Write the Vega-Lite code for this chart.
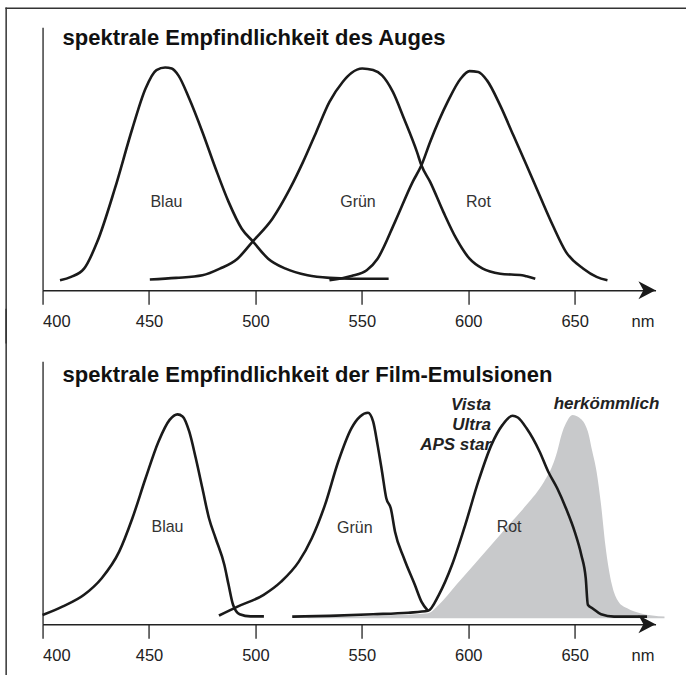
{
  "$schema": "https://vega.github.io/schema/vega-lite/v6.json",
  "autosize": {"type": "pad"},
  "padding": {"left": 4.55, "top": 6.25, "right": 0, "bottom": 0},
  "background": "white",
  "bounds": "flush",
  "spacing": 71,
  "config": {
    "view": {"stroke": null},
    "font": "Liberation Sans",
    "axis": {"domainColor": "#222", "domainWidth": 1.3, "tickColor": "#222", "tickWidth": 1.3, "grid": false},
    "text": {"font": "Liberation Sans"}
  },
  "datasets": {
    "eye": [
      {"series": "Blau", "nm": 408.2, "v": 0.038}, {"series": "Blau", "nm": 413.4, "v": 0.051}, {"series": "Blau", "nm": 419.5, "v": 0.082}, {"series": "Blau", "nm": 425.7, "v": 0.184}, {"series": "Blau", "nm": 434.0, "v": 0.387}, {"series": "Blau", "nm": 442.2, "v": 0.615}, {"series": "Blau", "nm": 448.4, "v": 0.767}, {"series": "Blau", "nm": 453.5, "v": 0.837}, {"series": "Blau", "nm": 457.6, "v": 0.847}, {"series": "Blau", "nm": 460.7, "v": 0.843}, {"series": "Blau", "nm": 463.8, "v": 0.817}, {"series": "Blau", "nm": 468.9, "v": 0.729}, {"series": "Blau", "nm": 475.1, "v": 0.602}, {"series": "Blau", "nm": 481.3, "v": 0.463}, {"series": "Blau", "nm": 487.4, "v": 0.336}, {"series": "Blau", "nm": 493.6, "v": 0.234}, {"series": "Blau", "nm": 498.8, "v": 0.186}, {"series": "Blau", "nm": 506.0, "v": 0.120}, {"series": "Blau", "nm": 514.2, "v": 0.082}, {"series": "Blau", "nm": 524.5, "v": 0.057}, {"series": "Blau", "nm": 534.8, "v": 0.047}, {"series": "Blau", "nm": 545.1, "v": 0.044}, {"series": "Blau", "nm": 562.6, "v": 0.044},
      {"series": "Grün", "nm": 450.4, "v": 0.041}, {"series": "Grün", "nm": 462.8, "v": 0.047}, {"series": "Grün", "nm": 475.1, "v": 0.057}, {"series": "Grün", "nm": 483.3, "v": 0.082}, {"series": "Grün", "nm": 491.6, "v": 0.120}, {"series": "Grün", "nm": 498.8, "v": 0.186}, {"series": "Grün", "nm": 508.0, "v": 0.272}, {"series": "Grün", "nm": 516.3, "v": 0.387}, {"series": "Grün", "nm": 522.4, "v": 0.488}, {"series": "Grün", "nm": 528.6, "v": 0.602}, {"series": "Grün", "nm": 534.8, "v": 0.716}, {"series": "Grün", "nm": 541.0, "v": 0.792}, {"series": "Grün", "nm": 545.1, "v": 0.826}, {"series": "Grün", "nm": 550.2, "v": 0.843}, {"series": "Grün", "nm": 555.3, "v": 0.837}, {"series": "Grün", "nm": 559.5, "v": 0.817}, {"series": "Grün", "nm": 564.6, "v": 0.754}, {"series": "Grün", "nm": 569.8, "v": 0.653}, {"series": "Grün", "nm": 575.9, "v": 0.526}, {"series": "Grün", "nm": 578.0, "v": 0.475}, {"series": "Grün", "nm": 582.1, "v": 0.412}, {"series": "Grün", "nm": 588.3, "v": 0.298}, {"series": "Grün", "nm": 594.4, "v": 0.196}, {"series": "Grün", "nm": 600.6, "v": 0.120}, {"series": "Grün", "nm": 606.8, "v": 0.082}, {"series": "Grün", "nm": 615.0, "v": 0.063}, {"series": "Grün", "nm": 625.3, "v": 0.057}, {"series": "Grün", "nm": 627.4, "v": 0.053}, {"series": "Grün", "nm": 631.5, "v": 0.044},
      {"series": "Rot", "nm": 534.8, "v": 0.038}, {"series": "Rot", "nm": 545.1, "v": 0.054}, {"series": "Rot", "nm": 552.3, "v": 0.076}, {"series": "Rot", "nm": 557.4, "v": 0.120}, {"series": "Rot", "nm": 565.6, "v": 0.260}, {"series": "Rot", "nm": 573.9, "v": 0.412}, {"series": "Rot", "nm": 578.0, "v": 0.475}, {"series": "Rot", "nm": 582.1, "v": 0.564}, {"series": "Rot", "nm": 590.3, "v": 0.716}, {"series": "Rot", "nm": 596.5, "v": 0.805}, {"series": "Rot", "nm": 600.6, "v": 0.833}, {"series": "Rot", "nm": 604.7, "v": 0.830}, {"series": "Rot", "nm": 608.8, "v": 0.798}, {"series": "Rot", "nm": 615.0, "v": 0.703}, {"series": "Rot", "nm": 621.2, "v": 0.589}, {"series": "Rot", "nm": 627.4, "v": 0.475}, {"series": "Rot", "nm": 633.5, "v": 0.361}, {"series": "Rot", "nm": 639.7, "v": 0.247}, {"series": "Rot", "nm": 645.9, "v": 0.146}, {"series": "Rot", "nm": 654.1, "v": 0.082}, {"series": "Rot", "nm": 660.3, "v": 0.051}, {"series": "Rot", "nm": 665.4, "v": 0.038}
    ],
    "film": [
      {"series": "Blau", "nm": 400.0, "v": 0.035}, {"series": "Blau", "nm": 409.3, "v": 0.067}, {"series": "Blau", "nm": 419.5, "v": 0.112}, {"series": "Blau", "nm": 427.8, "v": 0.175}, {"series": "Blau", "nm": 436.0, "v": 0.276}, {"series": "Blau", "nm": 442.2, "v": 0.403}, {"series": "Blau", "nm": 448.4, "v": 0.555}, {"series": "Blau", "nm": 454.5, "v": 0.695}, {"series": "Blau", "nm": 459.7, "v": 0.777}, {"series": "Blau", "nm": 463.4, "v": 0.798}, {"series": "Blau", "nm": 465.8, "v": 0.790}, {"series": "Blau", "nm": 468.9, "v": 0.733}, {"series": "Blau", "nm": 472.0, "v": 0.631}, {"series": "Blau", "nm": 475.1, "v": 0.517}, {"series": "Blau", "nm": 478.2, "v": 0.403}, {"series": "Blau", "nm": 481.3, "v": 0.327}, {"series": "Blau", "nm": 485.4, "v": 0.226}, {"series": "Blau", "nm": 487.4, "v": 0.150}, {"series": "Blau", "nm": 489.5, "v": 0.074}, {"series": "Blau", "nm": 492.6, "v": 0.038}, {"series": "Blau", "nm": 497.7, "v": 0.030}, {"series": "Blau", "nm": 504.0, "v": 0.030},
      {"series": "Grün", "nm": 482.9, "v": 0.033}, {"series": "Grün", "nm": 491.6, "v": 0.067}, {"series": "Grün", "nm": 503.9, "v": 0.112}, {"series": "Grün", "nm": 512.1, "v": 0.162}, {"series": "Grün", "nm": 520.4, "v": 0.238}, {"series": "Grün", "nm": 526.5, "v": 0.327}, {"series": "Grün", "nm": 532.7, "v": 0.454}, {"series": "Grün", "nm": 538.9, "v": 0.618}, {"series": "Grün", "nm": 545.1, "v": 0.745}, {"series": "Grün", "nm": 549.2, "v": 0.790}, {"series": "Grün", "nm": 552.9, "v": 0.804}, {"series": "Grün", "nm": 555.3, "v": 0.771}, {"series": "Grün", "nm": 557.4, "v": 0.682}, {"series": "Grün", "nm": 559.5, "v": 0.580}, {"series": "Grün", "nm": 561.5, "v": 0.479}, {"series": "Grün", "nm": 563.6, "v": 0.441}, {"series": "Grün", "nm": 565.6, "v": 0.352}, {"series": "Grün", "nm": 569.8, "v": 0.251}, {"series": "Grün", "nm": 574.9, "v": 0.150}, {"series": "Grün", "nm": 578.0, "v": 0.086}, {"series": "Grün", "nm": 581.1, "v": 0.051},
      {"series": "Rot", "nm": 517.3, "v": 0.029}, {"series": "Rot", "nm": 534.8, "v": 0.032}, {"series": "Rot", "nm": 555.3, "v": 0.038}, {"series": "Rot", "nm": 571.8, "v": 0.044}, {"series": "Rot", "nm": 581.1, "v": 0.051}, {"series": "Rot", "nm": 586.2, "v": 0.112}, {"series": "Rot", "nm": 592.4, "v": 0.226}, {"series": "Rot", "nm": 598.6, "v": 0.378}, {"series": "Rot", "nm": 604.7, "v": 0.542}, {"series": "Rot", "nm": 610.9, "v": 0.682}, {"series": "Rot", "nm": 616.1, "v": 0.758}, {"series": "Rot", "nm": 620.8, "v": 0.793}, {"series": "Rot", "nm": 623.3, "v": 0.786}, {"series": "Rot", "nm": 627.4, "v": 0.745}, {"series": "Rot", "nm": 633.5, "v": 0.657}, {"series": "Rot", "nm": 637.6, "v": 0.580}, {"series": "Rot", "nm": 641.8, "v": 0.517}, {"series": "Rot", "nm": 645.9, "v": 0.441}, {"series": "Rot", "nm": 650.0, "v": 0.352}, {"series": "Rot", "nm": 653.1, "v": 0.264}, {"series": "Rot", "nm": 655.2, "v": 0.175}, {"series": "Rot", "nm": 656.2, "v": 0.074}, {"series": "Rot", "nm": 658.3, "v": 0.061}, {"series": "Rot", "nm": 662.4, "v": 0.038}, {"series": "Rot", "nm": 668.5, "v": 0.029}, {"series": "Rot", "nm": 684.0, "v": 0.029}
    ],
    "conventional": [
      {"nm": 524.5, "v": 0.025}, {"nm": 565.6, "v": 0.035}, {"nm": 581.1, "v": 0.042}, {"nm": 586.2, "v": 0.074}, {"nm": 594.4, "v": 0.150}, {"nm": 602.7, "v": 0.226}, {"nm": 610.9, "v": 0.302}, {"nm": 619.1, "v": 0.378}, {"nm": 627.4, "v": 0.454}, {"nm": 635.6, "v": 0.542}, {"nm": 639.7, "v": 0.606}, {"nm": 641.8, "v": 0.657}, {"nm": 643.8, "v": 0.720}, {"nm": 645.9, "v": 0.764}, {"nm": 649.0, "v": 0.796}, {"nm": 652.1, "v": 0.786}, {"nm": 656.2, "v": 0.733}, {"nm": 658.3, "v": 0.657}, {"nm": 660.3, "v": 0.580}, {"nm": 662.4, "v": 0.454}, {"nm": 664.4, "v": 0.302}, {"nm": 667.5, "v": 0.150}, {"nm": 670.6, "v": 0.086}, {"nm": 674.7, "v": 0.061}, {"nm": 680.8, "v": 0.042}, {"nm": 692.2, "v": 0.029}
    ],
    "eyeLabels": [
      {"label": "Blau", "nm": 458.2, "v": 0.336}, {"label": "Grün", "nm": 548.2, "v": 0.336}, {"label": "Rot", "nm": 604.8, "v": 0.336}
    ],
    "filmLabels": [
      {"label": "Blau", "nm": 458.7, "v": 0.368}, {"label": "Grün", "nm": 546.7, "v": 0.365}, {"label": "Rot", "nm": 619.2, "v": 0.368}
    ],
    "filmNames": [
      {"label": "Vista", "nm": 610.7, "v": 0.834}, {"label": "Ultra", "nm": 610.7, "v": 0.758}, {"label": "APS star", "nm": 610.7, "v": 0.682}, {"label": "herkömmlich", "nm": 689.8, "v": 0.837}
    ]
  },
  "vconcat": [
    {
      "width": 613,
      "height": 263,
      "layer": [
        {
          "data": {"values": [{}]},
          "mark": {"type": "rule", "color": "#333", "strokeWidth": 1.5, "strokeCap": "square"},
          "encoding": {"x": {"datum": 382.9, "scale": {"domain": [400, 688], "nice": false, "zero": false}}, "x2": {"datum": 706}, "y": {"datum": 1.0722, "scale": {"domain": [0, 1], "nice": false, "zero": false}}}
        },
        {
          "data": {"values": [{}]},
          "mark": {"type": "rule", "color": "#333", "strokeWidth": 1.5, "strokeCap": "square"},
          "encoding": {"x": {"datum": 382.9, "scale": {"domain": [400, 688], "nice": false, "zero": false}}, "y": {"datum": 1.0722, "scale": {"domain": [0, 1], "nice": false, "zero": false}}, "y2": {"datum": -0.2}}
        },
        {
          "data": {"name": "eye"},
          "mark": {"type": "line", "color": "#1a1a1a", "strokeWidth": 2.6, "interpolate": "monotone", "strokeJoin": "round"},
          "encoding": {
            "x": {"field": "nm", "type": "quantitative", "scale": {"domain": [400, 688], "nice": false, "zero": false},
              "axis": {"values": [400, 450, 500, 550, 600, 650], "tickSize": 14, "labelPadding": 22, "labelBaseline": "alphabetic", "labelFontSize": 16.5, "labelColor": "#222", "labelFont": "Liberation Sans",
                "title": "nm", "titleX": 600, "titleY": 36, "titleAlign": "center", "titleBaseline": "alphabetic", "titleFontWeight": "normal", "titleFontSize": 16.5, "titleColor": "#222", "titleFont": "Liberation Sans"}},
            "y": {"field": "v", "type": "quantitative", "scale": {"domain": [0, 1], "nice": false, "zero": false},
              "axis": {"ticks": false, "labels": false, "title": null}},
            "detail": {"field": "series"}
          }
        },
        {
          "data": {"values": [{}]},
          "mark": {"type": "point", "shape": "M0,0 L-1.9,-1 L-1.35,0 L-1.9,1 Z", "size": 324, "filled": true, "color": "#1a1a1a", "opacity": 1, "strokeWidth": 0},
          "encoding": {"x": {"datum": 688, "scale": {"domain": [400, 688], "nice": false, "zero": false}}, "y": {"datum": 0, "scale": {"domain": [0, 1], "nice": false, "zero": false}}}
        },
        {
          "data": {"name": "eyeLabels"},
          "mark": {"type": "text", "fontSize": 16, "color": "#333", "align": "center", "baseline": "middle"},
          "encoding": {"x": {"field": "nm", "type": "quantitative", "scale": {"domain": [400, 688], "nice": false, "zero": false}}, "y": {"field": "v", "type": "quantitative", "scale": {"domain": [0, 1], "nice": false, "zero": false}}, "text": {"field": "label"}}
        },
        {
          "data": {"values": [{"t": "spektrale Empfindlichkeit des Auges"}]},
          "mark": {"type": "text", "fontSize": 22, "fontWeight": "bold", "color": "#111", "align": "left", "baseline": "alphabetic"},
          "encoding": {"x": {"datum": 409.4, "scale": {"domain": [400, 688], "nice": false, "zero": false}}, "y": {"datum": 0.9316, "scale": {"domain": [0, 1], "nice": false, "zero": false}}, "text": {"field": "t"}}
        }
      ]
    },
    {
      "width": 613,
      "height": 263,
      "layer": [
        {
          "data": {"values": [{}]},
          "mark": {"type": "rule", "color": "#333", "strokeWidth": 1.5},
          "encoding": {"x": {"datum": 382.9, "scale": {"domain": [400, 688], "nice": false, "zero": false}}, "y": {"datum": 1.2, "scale": {"domain": [0, 1], "nice": false, "zero": false}}, "y2": {"datum": -0.22}}
        },
        {
          "data": {"name": "conventional"},
          "mark": {"type": "area", "color": "#c8c9cb", "interpolate": "monotone", "opacity": 1},
          "encoding": {
            "x": {"field": "nm", "type": "quantitative", "scale": {"domain": [400, 688], "nice": false, "zero": false},
              "axis": {"values": [400, 450, 500, 550, 600, 650], "tickSize": 14, "labelPadding": 22, "labelBaseline": "alphabetic", "labelFontSize": 16.5, "labelColor": "#222", "labelFont": "Liberation Sans",
                "title": "nm", "titleX": 600, "titleY": 36, "titleAlign": "center", "titleBaseline": "alphabetic", "titleFontWeight": "normal", "titleFontSize": 16.5, "titleColor": "#222", "titleFont": "Liberation Sans"}},
            "y": {"field": "v", "type": "quantitative", "scale": {"domain": [0, 1], "nice": false, "zero": false},
              "axis": {"ticks": false, "labels": false, "title": null}},
            "y2": {"datum": 0.023}
          }
        },
        {
          "data": {"name": "film"},
          "mark": {"type": "line", "color": "#1a1a1a", "strokeWidth": 2.6, "interpolate": "monotone", "strokeJoin": "round"},
          "encoding": {
            "x": {"field": "nm", "type": "quantitative", "scale": {"domain": [400, 688], "nice": false, "zero": false}},
            "y": {"field": "v", "type": "quantitative", "scale": {"domain": [0, 1], "nice": false, "zero": false}},
            "detail": {"field": "series"}
          }
        },
        {
          "data": {"values": [{}]},
          "mark": {"type": "point", "shape": "M0,0 L-1.9,-1 L-1.35,0 L-1.9,1 Z", "size": 324, "filled": true, "color": "#1a1a1a", "opacity": 1, "strokeWidth": 0},
          "encoding": {"x": {"datum": 688, "scale": {"domain": [400, 688], "nice": false, "zero": false}}, "y": {"datum": 0, "scale": {"domain": [0, 1], "nice": false, "zero": false}}}
        },
        {
          "data": {"name": "filmLabels"},
          "mark": {"type": "text", "fontSize": 16, "color": "#333", "align": "center", "baseline": "middle"},
          "encoding": {"x": {"field": "nm", "type": "quantitative", "scale": {"domain": [400, 688], "nice": false, "zero": false}}, "y": {"field": "v", "type": "quantitative", "scale": {"domain": [0, 1], "nice": false, "zero": false}}, "text": {"field": "label"}}
        },
        {
          "data": {"name": "filmNames"},
          "mark": {"type": "text", "fontSize": 17, "fontWeight": "bold", "fontStyle": "italic", "color": "#222", "align": "right", "baseline": "middle"},
          "encoding": {"x": {"field": "nm", "type": "quantitative", "scale": {"domain": [400, 688], "nice": false, "zero": false}}, "y": {"field": "v", "type": "quantitative", "scale": {"domain": [0, 1], "nice": false, "zero": false}}, "text": {"field": "label"}}
        },
        {
          "data": {"values": [{"t": "spektrale Empfindlichkeit der Film-Emulsionen"}]},
          "mark": {"type": "text", "fontSize": 22, "fontWeight": "bold", "color": "#111", "align": "left", "baseline": "alphabetic"},
          "encoding": {"x": {"datum": 409.4, "scale": {"domain": [400, 688], "nice": false, "zero": false}}, "y": {"datum": 0.92, "scale": {"domain": [0, 1], "nice": false, "zero": false}}, "text": {"field": "t"}}
        }
      ]
    }
  ]
}
